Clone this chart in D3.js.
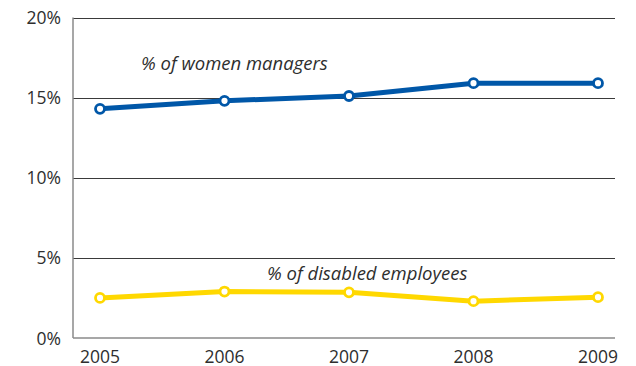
<!DOCTYPE html>
<html>
<head>
<meta charset="utf-8">
<script src="https://cdn.jsdelivr.net/npm/d3@7"></script>
<style>
  html, body { margin: 0; padding: 0; background: #fff; }
  svg { display: block; }
  text { font-family: "Open Sans", "Noto Sans", sans-serif; fill: #2e2e2e; }
</style>
</head>
<body>
<svg id="chart" width="636" height="366"></svg>
<script>
// Workforce diversity indicators, 2005–2009 (percent)
const years = [2005, 2006, 2007, 2008, 2009];
const womenManagers = [14.3, 14.8, 15.1, 15.9, 15.9];
const disabledEmployees = [2.5, 2.9, 2.85, 2.3, 2.55];
const yTicks = [0, 5, 10, 15, 20];
const seriesLabels = ["% of women managers", "% of disabled employees"];

const svg = d3.select("#chart");
const plot = { left: 73, right: 615, top: 17.5, bottom: 338 };

const x = d3.scalePoint().domain(years).range([100, 598]);
const y = d3.scaleLinear().domain([0, 20]).range([plot.bottom, plot.top]);

// Horizontal gridlines
svg.append("g")
  .selectAll("line")
  .data(yTicks.filter(d => d > 0))
  .join("line")
  .attr("x1", plot.left).attr("x2", plot.right)
  .attr("y1", d => Math.round(y(d)) + 0.5).attr("y2", d => Math.round(y(d)) + 0.5)
  .attr("stroke", "#3a3a3a").attr("stroke-width", 1);

// Y axis labels
svg.append("g")
  .selectAll("text")
  .data(yTicks)
  .join("text")
  .attr("x", 61).attr("y", d => y(d) + 6.5)
  .attr("text-anchor", "end")
  .attr("font-size", 17.5)
  .text(d => d + "%");

// Axis lines
svg.append("line")
  .attr("x1", plot.left).attr("x2", plot.left)
  .attr("y1", plot.top).attr("y2", plot.bottom)
  .attr("stroke", "#8a8a8a").attr("stroke-width", 1.5);
svg.append("line")
  .attr("x1", plot.left).attr("x2", plot.right)
  .attr("y1", plot.bottom).attr("y2", plot.bottom)
  .attr("stroke", "#8a8a8a").attr("stroke-width", 1.5);

// X axis labels
svg.append("g")
  .selectAll("text")
  .data(years)
  .join("text")
  .attr("x", d => x(d)).attr("y", 362.5)
  .attr("text-anchor", "middle")
  .attr("font-size", 17.5)
  .text(d => d);

// Series lines with hollow markers
const series = [
  { values: womenManagers, color: "#0057a8" },
  { values: disabledEmployees, color: "#ffd800" }
];
const line = d3.line().x((d, i) => x(years[i])).y(d => y(d));

series.forEach(s => {
  svg.append("path")
    .attr("d", line(s.values))
    .attr("fill", "none")
    .attr("stroke", s.color)
    .attr("stroke-width", 5)
    .attr("stroke-linejoin", "round");
  svg.append("g")
    .selectAll("circle")
    .data(s.values)
    .join("circle")
    .attr("cx", (d, i) => x(years[i]))
    .attr("cy", d => y(d))
    .attr("r", 4.5)
    .attr("fill", "#fff")
    .attr("stroke", s.color)
    .attr("stroke-width", 2.8);
});

// Series labels
svg.append("text")
  .attr("x", 141).attr("y", 70)
  .attr("font-size", 18.5).attr("font-style", "italic")
  .text(seriesLabels[0]);
svg.append("text")
  .attr("x", 267).attr("y", 280)
  .attr("font-size", 18.5).attr("font-style", "italic")
  .text(seriesLabels[1]);
</script>
</body>
</html>
